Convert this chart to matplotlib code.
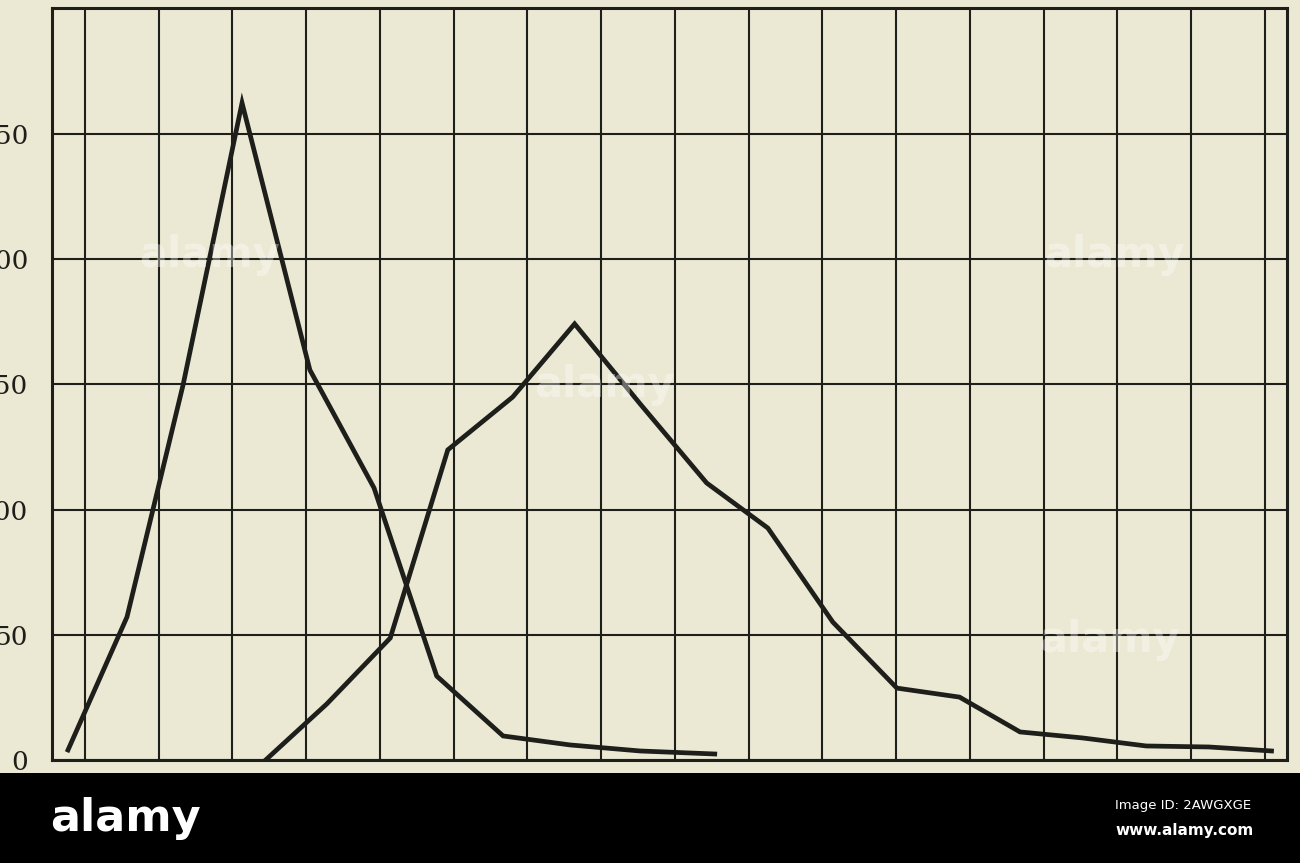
import matplotlib
matplotlib.use("Agg")
import matplotlib.pyplot as plt
from matplotlib.patches import Rectangle

# ---- data ----
# x in grid-column units (vertical grid lines at 0..16), y in counts
curve1_x = [-0.23, 0.57, 1.33, 2.13, 3.05, 3.92, 4.77, 5.67, 6.58, 7.53, 8.54]
curve1_y = [4.0, 57.1, 149.7, 262.3, 155.7, 108.6, 33.5, 9.6, 6.0, 3.6, 2.4]

curve2_x = [2.45, 3.28, 4.14, 4.92, 5.80, 6.64, 7.53, 8.43, 9.26, 10.14,
            11.01, 11.86, 12.68, 13.53, 14.39, 15.24, 16.09]
curve2_y = [0.0, 22.4, 48.7, 123.8, 144.9, 174.1, 142.1, 110.6, 92.6, 55.1,
            28.7, 25.1, 11.2, 8.8, 5.6, 5.2, 3.6]

y_ticks = [0, 50, 100, 150, 200, 250, 300]
y_tick_labels = ["0", "50", "100", "150", "200", "250", ""]
x_grid = list(range(17))

paper = "#ebe9d3"
ink = "#1e1e1a"

W, H = 1300, 863
fig = plt.figure(figsize=(W / 100, H / 100), dpi=100)
fig.patch.set_facecolor(paper)

ax = fig.add_axes([52 / W, (H - 760) / H, (1287 - 52) / W, (760 - 8.5) / H])
ax.set_facecolor(paper)
ax.set_xlim(-0.447, 16.3)
ax.set_ylim(0, 300)

ax.set_xticks(x_grid)
ax.set_xticklabels([])
ax.set_yticks(y_ticks)
ax.set_yticklabels(y_tick_labels, family="DejaVu Serif", fontsize=19, color=ink)
ax.tick_params(axis="both", length=0)
ax.tick_params(axis="y", pad=17)
ax.grid(True, color=ink, linewidth=1.5)
ax.set_axisbelow(True)
for s in ax.spines.values():
    s.set_color(ink)
    s.set_linewidth(2.2)

ax.plot(curve1_x, curve1_y, color=ink, linewidth=3.4, solid_joinstyle="miter", zorder=3)
ax.plot(curve2_x, curve2_y, color=ink, linewidth=3.4, solid_joinstyle="miter", zorder=3)

# faint watermark text
for (px, py) in [(210, 255), (605, 385), (1115, 255), (1110, 640)]:
    fig.text(px / W, 1 - py / H, "alamy", color="white", alpha=0.35,
             fontsize=30, fontweight="bold", ha="center", va="center",
             family="DejaVu Sans Condensed")

# black footer bar
fig.add_artist(Rectangle((0, 0), 1, (H - 773) / H, transform=fig.transFigure,
                         facecolor="black", edgecolor="none", zorder=5))
fig.text(50 / W, 1 - 818 / H, "alamy", color="white", fontsize=32,
         fontweight="bold", ha="left", va="center",
         family="DejaVu Sans Condensed", zorder=6)
fig.text(1115 / W, 1 - 805 / H, "Image ID: 2AWGXGE", color="white", fontsize=9.5,
         ha="left", va="center", family="DejaVu Sans Condensed", zorder=6)
fig.text(1115 / W, 1 - 830 / H, "www.alamy.com", color="white", fontsize=11,
         fontweight="bold", ha="left", va="center", family="DejaVu Sans Condensed", zorder=6)

fig.savefig("out.png", dpi=100, facecolor=fig.get_facecolor())
